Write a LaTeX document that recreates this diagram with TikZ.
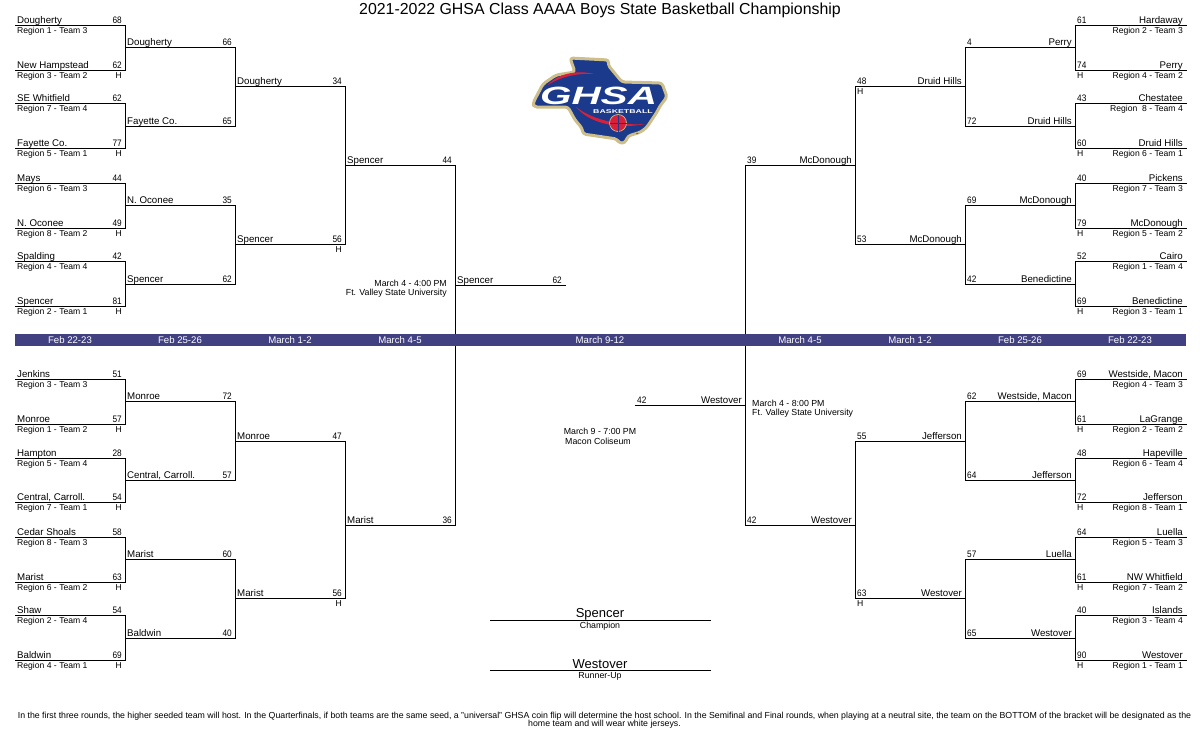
\documentclass[tikz,border=0pt]{standalone}
\usepackage{fontspec}
\setmainfont{Liberation Sans}
\definecolor{bandblue}{HTML}{414080}
\definecolor{ghsanavy}{HTML}{1B3A8C}
\definecolor{ghsagold}{HTML}{CDBE8A}
\definecolor{ghsared}{HTML}{D8203A}
\tikzset{
	slot/.style={line width=1pt,line cap=rect},
	teamL/.style={anchor=base west,inner sep=0pt,xshift=2pt,yshift=1.6pt,font=\fontsize{9.7}{11}\selectfont},
	scoreL/.style={anchor=base east,inner sep=0pt,xshift=-3pt,yshift=1.6pt,xscale=.88,font=\fontsize{9.4}{11}\selectfont},
	regionL/.style={anchor=base west,inner sep=0pt,xshift=2pt,yshift=-8pt,font=\fontsize{8.6}{10}\selectfont},
	hostL/.style={anchor=base east,inner sep=0pt,xshift=-3pt,yshift=-8pt,font=\fontsize{8.6}{10}\selectfont},
	teamR/.style={anchor=base east,inner sep=0pt,xshift=-3pt,yshift=1.6pt,font=\fontsize{9.7}{11}\selectfont},
	scoreR/.style={anchor=base west,inner sep=0pt,xshift=2pt,yshift=1.6pt,xscale=.88,font=\fontsize{9.4}{11}\selectfont},
	regionR/.style={anchor=base east,inner sep=0pt,xshift=-3pt,yshift=-8pt,font=\fontsize{8.6}{10}\selectfont},
	hostR/.style={anchor=base west,inner sep=0pt,xshift=2pt,yshift=-8pt,font=\fontsize{8.6}{10}\selectfont},
	bandtext/.style={text=white,inner sep=0pt,font=\fontsize{9.6}{11}\selectfont},
	note/.style={inner sep=0pt,font=\fontsize{8.8}{10}\selectfont},
}
\begin{document}
\begin{tikzpicture}[x=1pt,y=-1pt]
	\useasboundingbox (0,0) rectangle (1200,750);
	\node[inner sep=0pt,font=\fontsize{15.9}{19}\selectfont] (title) at (600,10.5) {2021-2022 GHSA Class AAAA Boys State Basketball Championship};
	% left, first round
	\draw[slot] (15,25) coordinate (l11a) -- (125,25) coordinate (l11b);
	\node[teamL] (l11t) at (l11a) {Dougherty}; \node[scoreL] (l11s) at (l11b) {68}; \node[regionL] (l11g) at (l11a) {Region 1 - Team 3};
	\draw[slot] (15,70) coordinate (l12a) -- (125,70) coordinate (l12b);
	\node[teamL] (l12t) at (l12a) {New Hampstead}; \node[scoreL] (l12s) at (l12b) {62}; \node[regionL] (l12g) at (l12a) {Region 3 - Team 2}; \node[hostL] (l12h) at (l12b) {H};
	\draw[slot] (15,103) coordinate (l13a) -- (125,103) coordinate (l13b);
	\node[teamL] (l13t) at (l13a) {SE Whitfield}; \node[scoreL] (l13s) at (l13b) {62}; \node[regionL] (l13g) at (l13a) {Region 7 - Team 4};
	\draw[slot] (15,148) coordinate (l14a) -- (125,148) coordinate (l14b);
	\node[teamL] (l14t) at (l14a) {Fayette Co.}; \node[scoreL] (l14s) at (l14b) {77}; \node[regionL] (l14g) at (l14a) {Region 5 - Team 1}; \node[hostL] (l14h) at (l14b) {H};
	\draw[slot] (15,183) coordinate (l15a) -- (125,183) coordinate (l15b);
	\node[teamL] (l15t) at (l15a) {Mays}; \node[scoreL] (l15s) at (l15b) {44}; \node[regionL] (l15g) at (l15a) {Region 6 - Team 3};
	\draw[slot] (15,228) coordinate (l16a) -- (125,228) coordinate (l16b);
	\node[teamL] (l16t) at (l16a) {N. Oconee}; \node[scoreL] (l16s) at (l16b) {49}; \node[regionL] (l16g) at (l16a) {Region 8 - Team 2}; \node[hostL] (l16h) at (l16b) {H};
	\draw[slot] (15,261) coordinate (l17a) -- (125,261) coordinate (l17b);
	\node[teamL] (l17t) at (l17a) {Spalding}; \node[scoreL] (l17s) at (l17b) {42}; \node[regionL] (l17g) at (l17a) {Region 4 - Team 4};
	\draw[slot] (15,306) coordinate (l18a) -- (125,306) coordinate (l18b);
	\node[teamL] (l18t) at (l18a) {Spencer}; \node[scoreL] (l18s) at (l18b) {81}; \node[regionL] (l18g) at (l18a) {Region 2 - Team 1}; \node[hostL] (l18h) at (l18b) {H};
	\draw[slot] (15,379) coordinate (l19a) -- (125,379) coordinate (l19b);
	\node[teamL] (l19t) at (l19a) {Jenkins}; \node[scoreL] (l19s) at (l19b) {51}; \node[regionL] (l19g) at (l19a) {Region 3 - Team 3};
	\draw[slot] (15,424) coordinate (l110a) -- (125,424) coordinate (l110b);
	\node[teamL] (l110t) at (l110a) {Monroe}; \node[scoreL] (l110s) at (l110b) {57}; \node[regionL] (l110g) at (l110a) {Region 1 - Team 2}; \node[hostL] (l110h) at (l110b) {H};
	\draw[slot] (15,458) coordinate (l111a) -- (125,458) coordinate (l111b);
	\node[teamL] (l111t) at (l111a) {Hampton}; \node[scoreL] (l111s) at (l111b) {28}; \node[regionL] (l111g) at (l111a) {Region 5 - Team 4};
	\draw[slot] (15,502) coordinate (l112a) -- (125,502) coordinate (l112b);
	\node[teamL] (l112t) at (l112a) {Central, Carroll.}; \node[scoreL] (l112s) at (l112b) {54}; \node[regionL] (l112g) at (l112a) {Region 7 - Team 1}; \node[hostL] (l112h) at (l112b) {H};
	\draw[slot] (15,537) coordinate (l113a) -- (125,537) coordinate (l113b);
	\node[teamL] (l113t) at (l113a) {Cedar Shoals}; \node[scoreL] (l113s) at (l113b) {58}; \node[regionL] (l113g) at (l113a) {Region 8 - Team 3};
	\draw[slot] (15,582) coordinate (l114a) -- (125,582) coordinate (l114b);
	\node[teamL] (l114t) at (l114a) {Marist}; \node[scoreL] (l114s) at (l114b) {63}; \node[regionL] (l114g) at (l114a) {Region 6 - Team 2}; \node[hostL] (l114h) at (l114b) {H};
	\draw[slot] (15,615) coordinate (l115a) -- (125,615) coordinate (l115b);
	\node[teamL] (l115t) at (l115a) {Shaw}; \node[scoreL] (l115s) at (l115b) {54}; \node[regionL] (l115g) at (l115a) {Region 2 - Team 4};
	\draw[slot] (15,660) coordinate (l116a) -- (125,660) coordinate (l116b);
	\node[teamL] (l116t) at (l116a) {Baldwin}; \node[scoreL] (l116s) at (l116b) {69}; \node[regionL] (l116g) at (l116a) {Region 4 - Team 1}; \node[hostL] (l116h) at (l116b) {H};
	% left, second round
	\draw[slot] (125,47) coordinate (l21a) -- (235,47) coordinate (l21b);
	\node[teamL] (l21t) at (l21a) {Dougherty}; \node[scoreL] (l21s) at (l21b) {66};
	\draw[slot] (125,126) coordinate (l22a) -- (235,126) coordinate (l22b);
	\node[teamL] (l22t) at (l22a) {Fayette Co.}; \node[scoreL] (l22s) at (l22b) {65};
	\draw[slot] (125,205) coordinate (l23a) -- (235,205) coordinate (l23b);
	\node[teamL] (l23t) at (l23a) {N. Oconee}; \node[scoreL] (l23s) at (l23b) {35};
	\draw[slot] (125,284) coordinate (l24a) -- (235,284) coordinate (l24b);
	\node[teamL] (l24t) at (l24a) {Spencer}; \node[scoreL] (l24s) at (l24b) {62};
	\draw[slot] (125,401) coordinate (l25a) -- (235,401) coordinate (l25b);
	\node[teamL] (l25t) at (l25a) {Monroe}; \node[scoreL] (l25s) at (l25b) {72};
	\draw[slot] (125,480) coordinate (l26a) -- (235,480) coordinate (l26b);
	\node[teamL] (l26t) at (l26a) {Central, Carroll.}; \node[scoreL] (l26s) at (l26b) {57};
	\draw[slot] (125,559) coordinate (l27a) -- (235,559) coordinate (l27b);
	\node[teamL] (l27t) at (l27a) {Marist}; \node[scoreL] (l27s) at (l27b) {60};
	\draw[slot] (125,638) coordinate (l28a) -- (235,638) coordinate (l28b);
	\node[teamL] (l28t) at (l28a) {Baldwin}; \node[scoreL] (l28s) at (l28b) {40};
	% left, third round
	\draw[slot] (235,86) coordinate (l31a) -- (345,86) coordinate (l31b);
	\node[teamL] (l31t) at (l31a) {Dougherty}; \node[scoreL] (l31s) at (l31b) {34};
	\draw[slot] (235,244) coordinate (l32a) -- (345,244) coordinate (l32b);
	\node[teamL] (l32t) at (l32a) {Spencer}; \node[scoreL] (l32s) at (l32b) {56}; \node[hostL] (l32h) at (l32b) {H};
	\draw[slot] (235,441) coordinate (l33a) -- (345,441) coordinate (l33b);
	\node[teamL] (l33t) at (l33a) {Monroe}; \node[scoreL] (l33s) at (l33b) {47};
	\draw[slot] (235,598) coordinate (l34a) -- (345,598) coordinate (l34b);
	\node[teamL] (l34t) at (l34a) {Marist}; \node[scoreL] (l34s) at (l34b) {56}; \node[hostL] (l34h) at (l34b) {H};
	% left, semifinal and final
	\draw[slot] (345,165) coordinate (l41a) -- (455,165) coordinate (l41b);
	\node[teamL] (l41t) at (l41a) {Spencer}; \node[scoreL] (l41s) at (l41b) {44};
	\draw[slot] (345,525) coordinate (l42a) -- (455,525) coordinate (l42b);
	\node[teamL] (l42t) at (l42a) {Marist}; \node[scoreL] (l42s) at (l42b) {36};
	\draw[slot] (455,285) coordinate (l5a) -- (565,285) coordinate (l5b);
	\node[teamL] (l5t) at (l5a) {Spencer}; \node[scoreL] (l5s) at (l5b) {62};
	% left, joins
	\draw[slot] (l11b) -- (l12b); \draw[slot] (l13b) -- (l14b); \draw[slot] (l15b) -- (l16b); \draw[slot] (l17b) -- (l18b);
	\draw[slot] (l19b) -- (l110b); \draw[slot] (l111b) -- (l112b); \draw[slot] (l113b) -- (l114b); \draw[slot] (l115b) -- (l116b);
	\draw[slot] (l21b) -- (l22b); \draw[slot] (l23b) -- (l24b); \draw[slot] (l25b) -- (l26b); \draw[slot] (l27b) -- (l28b);
	\draw[slot] (l31b) -- (l32b); \draw[slot] (l33b) -- (l34b);
	\draw[slot] (l41b) -- (l42b);
	% right, first round
	\draw[slot] (1186,25) coordinate (r11a) -- (1075,25) coordinate (r11b);
	\node[teamR] (r11t) at (r11a) {Hardaway}; \node[scoreR] (r11s) at (r11b) {61}; \node[regionR] (r11g) at (r11a) {Region 2 - Team 3};
	\draw[slot] (1186,70) coordinate (r12a) -- (1075,70) coordinate (r12b);
	\node[teamR] (r12t) at (r12a) {Perry}; \node[scoreR] (r12s) at (r12b) {74}; \node[regionR] (r12g) at (r12a) {Region 4 - Team 2}; \node[hostR] (r12h) at (r12b) {H};
	\draw[slot] (1186,103) coordinate (r13a) -- (1075,103) coordinate (r13b);
	\node[teamR] (r13t) at (r13a) {Chestatee}; \node[scoreR] (r13s) at (r13b) {43}; \node[regionR] (r13g) at (r13a) {Region\ \ 8 - Team 4};
	\draw[slot] (1186,148) coordinate (r14a) -- (1075,148) coordinate (r14b);
	\node[teamR] (r14t) at (r14a) {Druid Hills}; \node[scoreR] (r14s) at (r14b) {60}; \node[regionR] (r14g) at (r14a) {Region 6 - Team 1}; \node[hostR] (r14h) at (r14b) {H};
	\draw[slot] (1186,183) coordinate (r15a) -- (1075,183) coordinate (r15b);
	\node[teamR] (r15t) at (r15a) {Pickens}; \node[scoreR] (r15s) at (r15b) {40}; \node[regionR] (r15g) at (r15a) {Region 7 - Team 3};
	\draw[slot] (1186,228) coordinate (r16a) -- (1075,228) coordinate (r16b);
	\node[teamR] (r16t) at (r16a) {McDonough}; \node[scoreR] (r16s) at (r16b) {79}; \node[regionR] (r16g) at (r16a) {Region 5 - Team 2}; \node[hostR] (r16h) at (r16b) {H};
	\draw[slot] (1186,261) coordinate (r17a) -- (1075,261) coordinate (r17b);
	\node[teamR] (r17t) at (r17a) {Cairo}; \node[scoreR] (r17s) at (r17b) {52}; \node[regionR] (r17g) at (r17a) {Region 1 - Team 4};
	\draw[slot] (1186,306) coordinate (r18a) -- (1075,306) coordinate (r18b);
	\node[teamR] (r18t) at (r18a) {Benedictine}; \node[scoreR] (r18s) at (r18b) {69}; \node[regionR] (r18g) at (r18a) {Region 3 - Team 1}; \node[hostR] (r18h) at (r18b) {H};
	\draw[slot] (1186,379) coordinate (r19a) -- (1075,379) coordinate (r19b);
	\node[teamR] (r19t) at (r19a) {Westside, Macon}; \node[scoreR] (r19s) at (r19b) {69}; \node[regionR] (r19g) at (r19a) {Region 4 - Team 3};
	\draw[slot] (1186,424) coordinate (r110a) -- (1075,424) coordinate (r110b);
	\node[teamR] (r110t) at (r110a) {LaGrange}; \node[scoreR] (r110s) at (r110b) {61}; \node[regionR] (r110g) at (r110a) {Region 2 - Team 2}; \node[hostR] (r110h) at (r110b) {H};
	\draw[slot] (1186,458) coordinate (r111a) -- (1075,458) coordinate (r111b);
	\node[teamR] (r111t) at (r111a) {Hapeville}; \node[scoreR] (r111s) at (r111b) {48}; \node[regionR] (r111g) at (r111a) {Region 6 - Team 4};
	\draw[slot] (1186,502) coordinate (r112a) -- (1075,502) coordinate (r112b);
	\node[teamR] (r112t) at (r112a) {Jefferson}; \node[scoreR] (r112s) at (r112b) {72}; \node[regionR] (r112g) at (r112a) {Region 8 - Team 1}; \node[hostR] (r112h) at (r112b) {H};
	\draw[slot] (1186,537) coordinate (r113a) -- (1075,537) coordinate (r113b);
	\node[teamR] (r113t) at (r113a) {Luella}; \node[scoreR] (r113s) at (r113b) {64}; \node[regionR] (r113g) at (r113a) {Region 5 - Team 3};
	\draw[slot] (1186,582) coordinate (r114a) -- (1075,582) coordinate (r114b);
	\node[teamR] (r114t) at (r114a) {NW Whitfield}; \node[scoreR] (r114s) at (r114b) {61}; \node[regionR] (r114g) at (r114a) {Region 7 - Team 2}; \node[hostR] (r114h) at (r114b) {H};
	\draw[slot] (1186,615) coordinate (r115a) -- (1075,615) coordinate (r115b);
	\node[teamR] (r115t) at (r115a) {Islands}; \node[scoreR] (r115s) at (r115b) {40}; \node[regionR] (r115g) at (r115a) {Region 3 - Team 4};
	\draw[slot] (1186,660) coordinate (r116a) -- (1075,660) coordinate (r116b);
	\node[teamR] (r116t) at (r116a) {Westover}; \node[scoreR] (r116s) at (r116b) {90}; \node[regionR] (r116g) at (r116a) {Region 1 - Team 1}; \node[hostR] (r116h) at (r116b) {H};
	% right, second round
	\draw[slot] (1075,47) coordinate (r21a) -- (965,47) coordinate (r21b);
	\node[teamR] (r21t) at (r21a) {Perry}; \node[scoreR] (r21s) at (r21b) {4};
	\draw[slot] (1075,126) coordinate (r22a) -- (965,126) coordinate (r22b);
	\node[teamR] (r22t) at (r22a) {Druid Hills}; \node[scoreR] (r22s) at (r22b) {72};
	\draw[slot] (1075,205) coordinate (r23a) -- (965,205) coordinate (r23b);
	\node[teamR] (r23t) at (r23a) {McDonough}; \node[scoreR] (r23s) at (r23b) {69};
	\draw[slot] (1075,284) coordinate (r24a) -- (965,284) coordinate (r24b);
	\node[teamR] (r24t) at (r24a) {Benedictine}; \node[scoreR] (r24s) at (r24b) {42};
	\draw[slot] (1075,401) coordinate (r25a) -- (965,401) coordinate (r25b);
	\node[teamR] (r25t) at (r25a) {Westside, Macon}; \node[scoreR] (r25s) at (r25b) {62};
	\draw[slot] (1075,480) coordinate (r26a) -- (965,480) coordinate (r26b);
	\node[teamR] (r26t) at (r26a) {Jefferson}; \node[scoreR] (r26s) at (r26b) {64};
	\draw[slot] (1075,559) coordinate (r27a) -- (965,559) coordinate (r27b);
	\node[teamR] (r27t) at (r27a) {Luella}; \node[scoreR] (r27s) at (r27b) {57};
	\draw[slot] (1075,638) coordinate (r28a) -- (965,638) coordinate (r28b);
	\node[teamR] (r28t) at (r28a) {Westover}; \node[scoreR] (r28s) at (r28b) {65};
	% right, third round
	\draw[slot] (965,86) coordinate (r31a) -- (855,86) coordinate (r31b);
	\node[teamR] (r31t) at (r31a) {Druid Hills}; \node[scoreR] (r31s) at (r31b) {48}; \node[hostR] (r31h) at (r31b) {H};
	\draw[slot] (965,244) coordinate (r32a) -- (855,244) coordinate (r32b);
	\node[teamR] (r32t) at (r32a) {McDonough}; \node[scoreR] (r32s) at (r32b) {53};
	\draw[slot] (965,441) coordinate (r33a) -- (855,441) coordinate (r33b);
	\node[teamR] (r33t) at (r33a) {Jefferson}; \node[scoreR] (r33s) at (r33b) {55};
	\draw[slot] (965,598) coordinate (r34a) -- (855,598) coordinate (r34b);
	\node[teamR] (r34t) at (r34a) {Westover}; \node[scoreR] (r34s) at (r34b) {63}; \node[hostR] (r34h) at (r34b) {H};
	% right, semifinal and final
	\draw[slot] (855,165) coordinate (r41a) -- (745,165) coordinate (r41b);
	\node[teamR] (r41t) at (r41a) {McDonough}; \node[scoreR] (r41s) at (r41b) {39};
	\draw[slot] (855,525) coordinate (r42a) -- (745,525) coordinate (r42b);
	\node[teamR] (r42t) at (r42a) {Westover}; \node[scoreR] (r42s) at (r42b) {42};
	\draw[slot] (745,405) coordinate (r5a) -- (635,405) coordinate (r5b);
	\node[teamR] (r5t) at (r5a) {Westover}; \node[scoreR] (r5s) at (r5b) {42};
	% right, joins
	\draw[slot] (r11b) -- (r12b); \draw[slot] (r13b) -- (r14b); \draw[slot] (r15b) -- (r16b); \draw[slot] (r17b) -- (r18b);
	\draw[slot] (r19b) -- (r110b); \draw[slot] (r111b) -- (r112b); \draw[slot] (r113b) -- (r114b); \draw[slot] (r115b) -- (r116b);
	\draw[slot] (r21b) -- (r22b); \draw[slot] (r23b) -- (r24b); \draw[slot] (r25b) -- (r26b); \draw[slot] (r27b) -- (r28b);
	\draw[slot] (r31b) -- (r32b); \draw[slot] (r33b) -- (r34b);
	\draw[slot] (r41b) -- (r42b);
	% date band
	\fill[bandblue] (15,334) rectangle (1186,346);
	\node[bandtext] (d1) at (70,340) {Feb 22-23};
	\node[bandtext] (d2) at (180,340) {Feb 25-26};
	\node[bandtext] (d3) at (290,340) {March 1-2};
	\node[bandtext] (d4) at (400,340) {March 4-5};
	\node[bandtext] (d5) at (600,340) {March 9-12};
	\node[bandtext] (d6) at (800,340) {March 4-5};
	\node[bandtext] (d7) at (910,340) {March 1-2};
	\node[bandtext] (d8) at (1020,340) {Feb 25-26};
	\node[bandtext] (d9) at (1130,340) {Feb 22-23};
	% game notes
	\node[note,anchor=east] (n1) at (447,283) {March 4 - 4:00 PM};
	\node[note,anchor=east] (n2) at (447,293) {Ft. Valley State University};
	\node[note,anchor=west] (n3) at (752,403) {March 4 - 8:00 PM};
	\node[note,anchor=west] (n4) at (752,413) {Ft. Valley State University};
	\node[note] (n5) at (600,431) {March 9 - 7:00 PM};
	\node[note] (n6) at (598,441) {Macon Coliseum};
	% champion and runner-up
	\draw[slot] (490.5,620) coordinate (c1a) -- (710.5,620) coordinate (c1b);
	\node[inner sep=0pt,font=\fontsize{13}{15}\selectfont] (c1t) at (600,614) {Spencer};
	\node[note] (c1g) at (600,626.5) {Champion};
	\draw[slot] (490.5,670) coordinate (c2a) -- (710.5,670) coordinate (c2b);
	\node[inner sep=0pt,font=\fontsize{13}{15}\selectfont] (c2t) at (600,664) {Westover};
	\node[note] (c2g) at (600,676.5) {Runner-Up};
	% footer
	\node[inner sep=0pt,font=\fontsize{8.77}{10}\selectfont] (f1) at (604.5,716) {In the first three rounds, the higher seeded team will host. In the Quarterfinals, if both teams are the same seed, a "universal" GHSA coin flip will determine the host school. In the Semifinal and Final rounds, when playing at a neutral site, the team on the BOTTOM of the bracket will be designated as the};
	\node[inner sep=0pt,font=\fontsize{8.77}{10}\selectfont] (f2) at (604.5,724) {home team and will wear white jerseys.};
	% logo
	\draw[ghsagold,line width=3pt,line join=round,rounded corners=3pt,fill=ghsanavy] (570,58) -- (609,60) -- (608,65) -- (622,82) -- (662,83) -- (667,97) -- (660,106) -- (657,112) -- (647,127) -- (641,132) -- (628,136) -- (625,143) -- (619,143) -- (617,139) -- (583,134) -- (582,128) -- (575,120) -- (568,107) -- (534,107) -- (533,103) -- (543,84) -- (556,75) -- (575,72) -- cycle;
	\fill[ghsared] (548,85) .. controls (558,73) and (578,70) .. (594,74) .. controls (578,73) and (562,76) .. (548,85) -- cycle;
	\fill[ghsared] (576,107) .. controls (590,118) and (615,126) .. (645,124) .. controls (615,130) and (588,122) .. (576,107) -- cycle;
	\node[inner sep=0pt,text=white,xscale=1.62,font=\fontsize{25}{26}\bfseries\itshape\selectfont] (logotext) at (598.5,96) {GHSA};
	\node[inner sep=0pt,text=white,xscale=1.6,font=\fontsize{5.5}{6}\bfseries\selectfont] (logosub) at (623,111.5) {BASKETBALL};
	\draw[ghsagold,fill=ghsared,line width=0.7pt] (618,123) circle (8.5);
	\draw[ghsanavy,line width=0.5pt] (609.5,123) -- (626.5,123) (618,114.5) -- (618,131.5);
	\node[inner sep=0pt,font=\fontsize{3}{3}\selectfont] (logotm) at (637,134) {™};
\end{tikzpicture}
\end{document}
